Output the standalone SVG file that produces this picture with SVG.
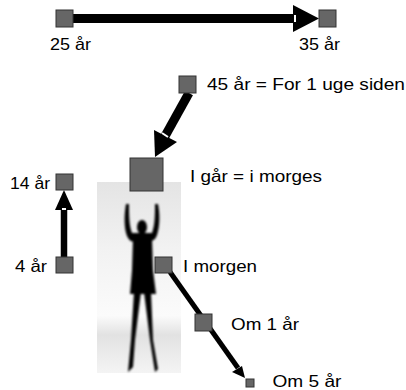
<svg xmlns="http://www.w3.org/2000/svg" width="406" height="390" viewBox="0 0 406 390">
<defs>
<style>
.sq{fill:#666;stroke:#333;stroke-width:1}
.lbl{font-family:"Liberation Sans",Arial,sans-serif;font-size:16.5px;fill:#000}
.ln{stroke:#000;fill:none}
.notch{stroke:#fff;stroke-width:2}
</style>
<linearGradient id="bg" x1="0" y1="0" x2="0" y2="1">
<stop offset="0" stop-color="#e4e4e4"/>
<stop offset="0.35" stop-color="#f2f2f2"/>
<stop offset="0.7" stop-color="#fbfbfb"/>
<stop offset="0.8" stop-color="#e2e2e2"/>
<stop offset="1" stop-color="#f4f4f4"/>
</linearGradient>
<filter id="blur" x="-20%" y="-20%" width="140%" height="140%"><feGaussianBlur stdDeviation="1.1"/></filter>
</defs>
<g id="photo">
<rect x="97" y="182" width="84" height="191" fill="url(#bg)"/>
<g filter="url(#blur)" fill="#050505">
<ellipse cx="142" cy="227" rx="5" ry="7"/>
<rect x="139" y="232" width="6" height="8"/>
<path d="M126,204 C124,215 124,228 127,236 C130,243 134,242 136,240 L148,240 C151,242 155,241 157,235 C160,226 160,214 158,204 L155,204 C155,214 155,225 152,233 L132,233 C129,225 129,214 129,204 Z"/>
<path d="M133,238 L152,238 L153,270 L156,294 L130,294 L132,270 Z"/>
<path d="M134,292 L141,292 L135,340 L133,367 L128,372 L131,340 Z"/>
<path d="M144,292 L151,292 L153,340 L158,369 L155,372 L150,340 Z"/>
</g>
</g>
<g id="connectors">
<line class="ln" x1="73" y1="18.5" x2="295" y2="18.5" stroke-width="9"/>
<polygon points="293,5 319,18.5 293,32"/>
<line class="notch" x1="295" y1="15" x2="295" y2="22"/>
<line class="ln" x1="189" y1="93" x2="164" y2="138" stroke-width="9"/>
<polygon points="154,130 177,142 155,157"/>
<line class="notch" x1="162" y1="133" x2="168" y2="137"/>
<line class="ln" x1="64" y1="257" x2="64" y2="207" stroke-width="6.5"/>
<polygon points="55,210 73,210 64,190"/>
<line class="notch" x1="62" y1="209" x2="66" y2="209"/>
<line class="ln" x1="170" y1="272" x2="238" y2="368" stroke-width="5"/>
<polygon points="232,372 242,366 245,378"/>
</g>
<g id="n25"><rect class="sq" x="56" y="10" width="17" height="17"/><text class="lbl" x="50" y="50" textLength="41" lengthAdjust="spacingAndGlyphs">25 år</text></g>
<g id="n35"><rect class="sq" x="319" y="10" width="17" height="17"/><text class="lbl" x="299" y="50" textLength="41" lengthAdjust="spacingAndGlyphs">35 år</text></g>
<g id="n45"><rect class="sq" x="179" y="76" width="17" height="17"/><text class="lbl" x="207" y="90" textLength="198" lengthAdjust="spacingAndGlyphs">45 år = For 1 uge siden</text></g>
<g id="igaar"><rect class="sq" x="130" y="158" width="33" height="33"/><text class="lbl" x="190" y="182" textLength="132" lengthAdjust="spacingAndGlyphs">I går = i morges</text></g>
<g id="n14"><rect class="sq" x="56" y="174" width="17" height="16"/><text class="lbl" x="10" y="189" textLength="40" lengthAdjust="spacingAndGlyphs">14 år</text></g>
<g id="n4"><rect class="sq" x="56" y="257" width="17" height="16"/><text class="lbl" x="15" y="271.5" textLength="32" lengthAdjust="spacingAndGlyphs">4 år</text></g>
<g id="imorgen"><rect class="sq" x="155" y="257" width="17" height="16"/><text class="lbl" x="183" y="271.5" textLength="74" lengthAdjust="spacingAndGlyphs">I morgen</text></g>
<g id="om1"><rect class="sq" x="195" y="314" width="17" height="17"/><text class="lbl" x="231" y="330" textLength="68" lengthAdjust="spacingAndGlyphs">Om 1 år</text></g>
<g id="om5"><rect class="sq" x="246" y="379" width="8" height="8"/><text class="lbl" x="272.5" y="386.5" textLength="69" lengthAdjust="spacingAndGlyphs">Om 5 år</text></g>
</svg>
